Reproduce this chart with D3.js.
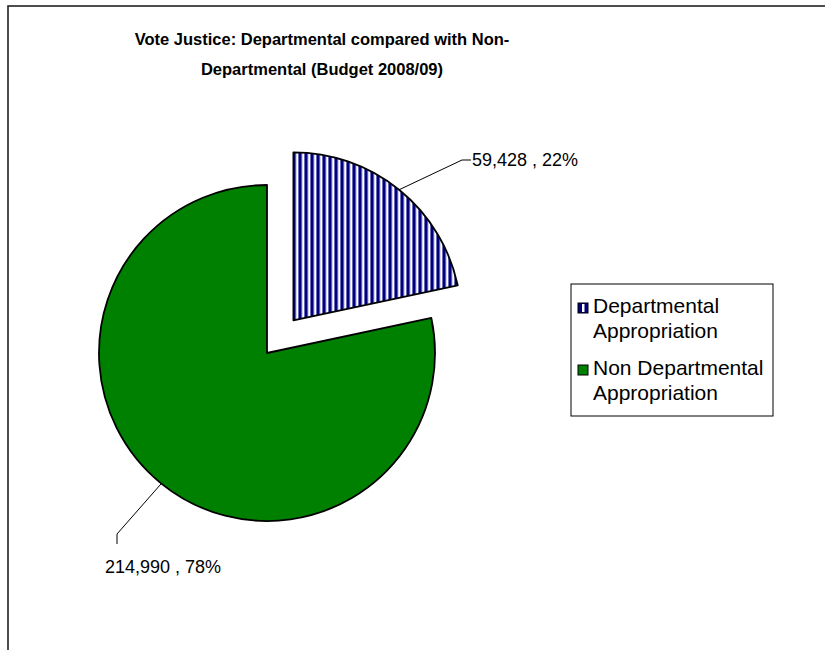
<!DOCTYPE html>
<html>
<head>
<meta charset="utf-8">
<script src="https://cdn.jsdelivr.net/npm/d3@7"></script>
<style>
  html, body { margin: 0; padding: 0; background: #fff; }
  svg { display: block; }
  text { font-family: "Liberation Sans", Arial, sans-serif; }
</style>
</head>
<body>
<script>
// ---- data ----
const categories = ["Departmental Appropriation", "Non Departmental Appropriation"];
const values = [59428, 214990];
const labels = ["59,428 , 22%", "214,990 , 78%"];
const legendLines = [["Departmental", "Appropriation"], ["Non Departmental", "Appropriation"]];
const titleLines = ["Vote Justice:  Departmental compared with Non-", "Departmental (Budget 2008/09)"];

const W = 825, H = 650;
const svg = d3.select("body").append("svg").attr("width", W).attr("height", H);

// pattern for departmental slice
const defs = svg.append("defs");
const pat = defs.append("pattern").attr("id", "vstripe").attr("patternUnits", "userSpaceOnUse")
  .attr("width", 6).attr("height", 6).attr("x", 293);
pat.append("rect").attr("width", 6).attr("height", 6).attr("fill", "#fff");
pat.append("rect").attr("width", 3.4).attr("height", 6).attr("fill", "#000080");

const fills = ["url(#vstripe)", "#008000"];

// outer border
svg.append("rect").attr("x", 8).attr("y", 6).attr("width", 900).attr("height", 700)
  .attr("fill", "none").attr("stroke", "#222").attr("stroke-width", 1.6);

// title
svg.append("text").attr("x", 322).attr("y", 45).attr("text-anchor", "middle")
  .attr("font-weight", "bold").attr("font-size", 16.5)
  .selectAll("tspan").data(titleLines).join("tspan")
  .attr("x", 322).attr("dy", (d, i) => i === 0 ? 0 : 30).text(d => d);

// pie
const cx = 267, cy = 353, r = 168, explode = 42;
const pie = d3.pie().sort(null).value(d => d);
const arcs = pie(values);
const arcGen = d3.arc().innerRadius(0).outerRadius(r);
const explodeIdx = [0];

const g = svg.append("g").attr("transform", `translate(${cx},${cy})`);
g.selectAll("path").data(arcs).join("path")
  .attr("d", arcGen)
  .attr("transform", (d, i) => {
    if (!explodeIdx.includes(i)) return null;
    const m = (d.startAngle + d.endAngle) / 2;
    return `translate(${explode * Math.sin(m)},${-explode * Math.cos(m)})`;
  })
  .attr("fill", (d, i) => fills[i])
  .attr("stroke", "#000").attr("stroke-width", 1.8).attr("stroke-linejoin", "round");

// leader lines and labels
const leader = [
  { bend: [462, 160], end: [471, 160], text: [472, 166], anchor: "start" },
  { bend: [117, 534], end: [117, 544], text: [105, 573], anchor: "start" }
];
arcs.forEach((d, i) => {
  const m = (d.startAngle + d.endAngle) / 2;
  const off = explodeIdx.includes(i) ? explode : 0;
  const ox = cx + off * Math.sin(m), oy = cy - off * Math.cos(m);
  const px = ox + r * Math.sin(m), py = oy - r * Math.cos(m);
  const L = leader[i];
  svg.append("path")
    .attr("d", d3.line()([[px, py], L.bend, L.end]))
    .attr("fill", "none").attr("stroke", "#000").attr("stroke-width", 1);
  svg.append("text").attr("x", L.text[0]).attr("y", L.text[1])
    .attr("text-anchor", L.anchor).attr("font-size", 18).text(labels[i]);
});

// legend
svg.append("rect").attr("x", 571).attr("y", 284).attr("width", 202).attr("height", 132)
  .attr("fill", "#fff").attr("stroke", "#000").attr("stroke-width", 1);
const legY = [303, 365];
const lg = svg.append("g");
categories.forEach((c, i) => {
  if (i === 0) {
    lg.append("rect").attr("x", 578).attr("y", legY[i]).attr("width", 10).attr("height", 10)
      .attr("fill", "#000080").attr("stroke", "#000").attr("stroke-width", 1);
    lg.append("rect").attr("x", 582).attr("y", legY[i] + 1).attr("width", 2.5).attr("height", 8)
      .attr("fill", "#fff");
  } else {
    lg.append("rect").attr("x", 578).attr("y", legY[i]).attr("width", 10).attr("height", 10)
      .attr("fill", "#008000").attr("stroke", "#000").attr("stroke-width", 1);
  }
  lg.append("text").attr("x", 593).attr("y", legY[i] + 10).attr("font-size", 21)
    .selectAll("tspan").data(legendLines[i]).join("tspan")
    .attr("x", 593).attr("dy", (d, j) => j === 0 ? 0 : 25).text(d => d);
});
</script>
</body>
</html>
